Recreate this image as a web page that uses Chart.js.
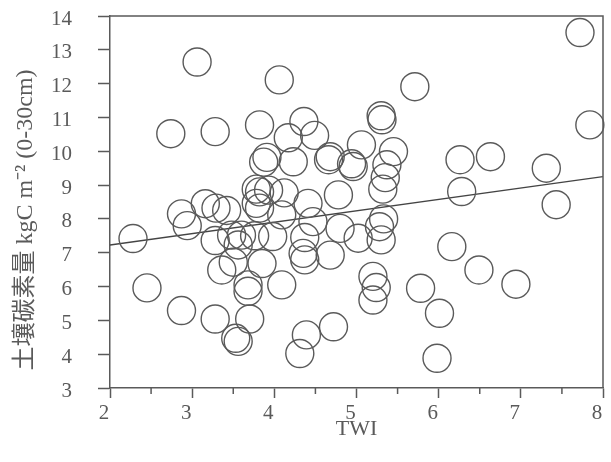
<!DOCTYPE html>
<html>
<head>
<meta charset="utf-8">
<script src="https://cdn.jsdelivr.net/npm/chart.js@4.4.1/dist/chart.umd.min.js"></script>
<style>
  html, body { margin: 0; padding: 0; background: #fff; }
</style>
</head>
<body>
<canvas id="scatter" width="611" height="462"></canvas>
<script>
// ── DATA ────────────────────────────────────────────────────────────────────
const twi = [
  2.28, 2.45, 2.74, 3.06, 2.87, 2.94, 2.87, 3.28, 3.16, 3.29,
  3.42, 3.28, 3.36, 3.28, 3.48, 3.60, 3.56, 3.50, 3.53, 3.56,
  3.68, 3.68, 3.70, 3.85, 3.76, 3.78, 3.82, 3.93, 3.78, 3.82,
  3.82, 3.91, 3.87, 3.98, 4.06, 4.09, 4.09, 4.17, 4.23, 4.36,
  4.49, 4.68, 4.66, 4.41, 4.47, 4.37, 4.35, 4.37, 4.68, 4.78,
  4.80, 4.39, 4.31, 4.72, 4.94, 4.96, 5.06, 5.30, 5.31, 5.45,
  5.37, 5.35, 5.32, 5.33, 5.28, 5.02, 5.30, 5.20, 5.24, 5.20,
  5.71, 5.78, 6.01, 5.98, 6.16, 6.26, 6.28, 6.49, 6.63, 6.94,
  7.31, 7.43, 7.72, 7.84, 4.12
];
const soc = [
  7.42, 5.96, 10.52, 12.64, 8.15, 7.80, 5.29, 10.58, 8.45, 8.32,
  8.25, 7.36, 6.49, 5.04, 7.52, 7.52, 7.23, 6.72, 4.47, 4.38,
  6.05, 5.86, 5.04, 6.68, 7.50, 8.88, 8.80, 8.85, 8.46, 8.32,
  10.78, 9.82, 9.68, 7.48, 12.11, 8.12, 6.05, 10.40, 9.69, 10.88,
  10.47, 9.84, 9.75, 8.46, 7.92, 7.45, 6.98, 6.79, 6.93, 8.71,
  7.72, 4.57, 4.02, 4.81, 9.63, 9.55, 10.19, 11.05, 10.93, 9.99,
  9.60, 9.22, 8.88, 8.00, 7.77, 7.43, 7.38, 6.30, 5.97, 5.60,
  11.91, 5.95, 5.21, 3.88, 7.18, 9.75, 8.81, 6.49, 9.84, 6.07,
  9.50, 8.42, 13.51, 10.78, 8.77
];
// regression line end points
const fitX = [2, 8];
const fitY = [7.23, 9.25];

const xMinorTicks = [2.5, 3.5, 4.5, 5.5, 6.5, 7.5];
const xTitle = "TWI";
const yTitle = "土壤碳素量 kgC m⁻² (0-30cm)";

// ── STYLE ───────────────────────────────────────────────────────────────────
const INK = "#5a5a5a";
const SERIF = "'Liberation Serif', 'Times New Roman', serif";
const tickFont = { family: SERIF, size: 21 };

// frame on top/right, minor ticks and the rotated y title
const framePlugin = {
  id: "frame",
  afterDraw(chart) {
    const { ctx, chartArea: a, scales: { x } } = chart;
    ctx.save();
    ctx.strokeStyle = INK;
    ctx.lineWidth = 1.5;
    ctx.beginPath();
    ctx.moveTo(a.left, a.top);
    ctx.lineTo(a.right, a.top);
    ctx.lineTo(a.right, a.bottom);
    xMinorTicks.forEach(v => {
      const px = x.getPixelForValue(v);
      ctx.moveTo(px, a.bottom);
      ctx.lineTo(px, a.bottom + 6);
    });
    ctx.stroke();

    ctx.fillStyle = INK;
    ctx.font = `24px 'Liberation Serif', 'Noto Sans CJK JP', serif`;
    ctx.textAlign = "center";
    ctx.textBaseline = "middle";
    ctx.translate(26, 220);
    ctx.rotate(-Math.PI / 2);
    ctx.fillText(yTitle, 0, 0);
    ctx.restore();
  }
};

// ── CHART ───────────────────────────────────────────────────────────────────
const points = twi.map((v, i) => ({ x: v, y: soc[i] }));
const fitLine = fitX.map((v, i) => ({ x: v, y: fitY[i] }));

new Chart(document.getElementById("scatter").getContext("2d"), {
  type: "scatter",
  data: {
    datasets: [
      {
        data: points,
        pointRadius: 14,
        pointBorderWidth: 1.4,
        borderColor: INK,
        backgroundColor: "rgba(0,0,0,0)",
        clip: false
      },
      {
        data: fitLine,
        showLine: true,
        pointRadius: 0,
        borderColor: "#444",
        borderWidth: 1.4
      }
    ]
  },
  options: {
    responsive: false,
    animation: false,
    layout: { autoPadding: false, padding: { top: 16, right: 8, left: 0, bottom: 0 } },
    plugins: { legend: { display: false }, tooltip: { enabled: false } },
    scales: {
      x: {
        type: "linear",
        min: 2, max: 8,
        ticks: { stepSize: 1, color: INK, font: tickFont, padding: 3, labelOffset: -6, maxRotation: 0 },
        grid: { drawOnChartArea: false, tickLength: 10, tickColor: INK, tickWidth: 1.5 },
        border: { color: INK, width: 1.5 },
        title: { display: true, text: xTitle, color: INK, font: { family: SERIF, size: 22 }, padding: { top: 0, bottom: 20 } },
        afterFit: s => { s.height = 74; s.paddingLeft = 0; s.paddingRight = 0; }
      },
      y: {
        min: 3, max: 14,
        ticks: { stepSize: 1, color: INK, font: tickFont, padding: 26, labelOffset: 3 },
        grid: { drawOnChartArea: false, tickLength: 12, tickColor: INK, tickWidth: 1.5 },
        border: { color: INK, width: 1.5 },
        afterFit: s => { s.width = 110; s.paddingTop = 0; s.paddingBottom = 0; }
      }
    }
  },
  plugins: [framePlugin]
});
</script>
</body>
</html>
